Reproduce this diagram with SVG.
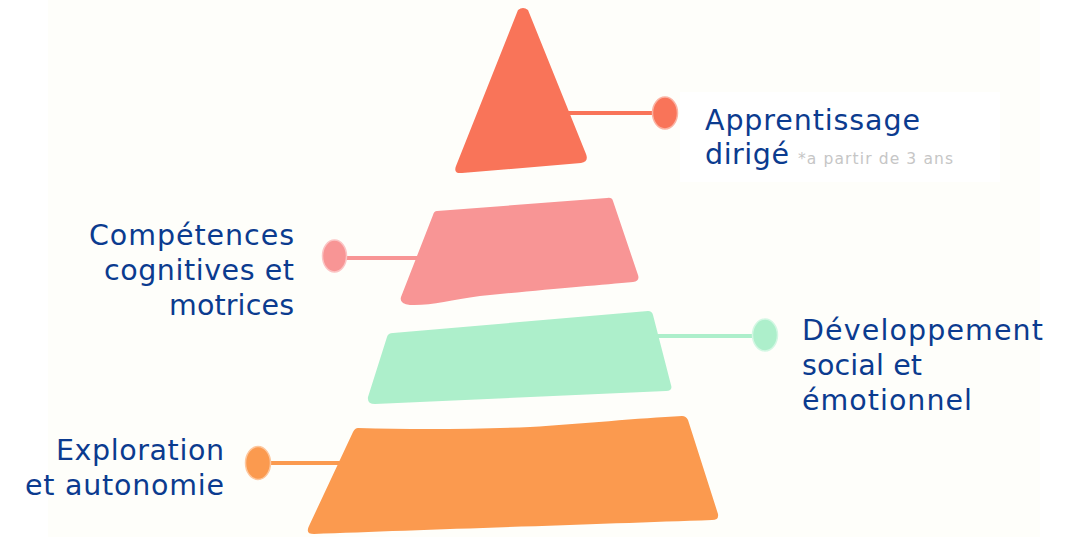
<svg xmlns="http://www.w3.org/2000/svg" width="1074" height="537" viewBox="0 0 1074 537">
<style>
.lbl{font-family:"DejaVu Sans","Liberation Sans",sans-serif;font-size:28.5px;fill:#0B3B8F}
.note{font-family:"DejaVu Sans","Liberation Sans",sans-serif;font-size:15.5px;fill:#C6C6C6}
.ln{stroke-width:4;fill:none}
.dot{stroke-width:1.5}
</style>
<rect x="0" y="0" width="1074" height="537" fill="#FFFFFF"/>
<rect x="48" y="0" width="992" height="537" fill="#FEFEFA"/>
<rect x="680" y="92" width="320" height="90" fill="#FFFFFF"/>
<g id="connectors">
  <line class="ln" x1="560" y1="113" x2="655" y2="113" stroke="#F97459"/>
  <ellipse class="dot" cx="665" cy="113" rx="12.5" ry="16" fill="#F97459" stroke="#FBB3A3"/>
  <line class="ln" x1="345" y1="258" x2="420" y2="258" stroke="#F89595"/>
  <ellipse class="dot" cx="334.5" cy="256" rx="12" ry="16" fill="#F89595" stroke="#FBC4C4"/>
  <line class="ln" x1="655" y1="336" x2="755" y2="336" stroke="#ADEFCB"/>
  <ellipse class="dot" cx="765" cy="335" rx="12.5" ry="16" fill="#ADEFCB" stroke="#D3F7E3"/>
  <line class="ln" x1="268" y1="463" x2="345" y2="463" stroke="#FB9A4F"/>
  <ellipse class="dot" cx="258" cy="463" rx="12.5" ry="16.5" fill="#FB9A4F" stroke="#FDC79E"/>
</g>
<g id="node-apprentissage">
  <path d="M518,10 Q523,6 528,10 L586,154 Q589,162 581,163 L462,173 Q453,174 456,166 Z" fill="#F97459"/>
  <text class="lbl" x="705" y="130" textLength="215" lengthAdjust="spacing">Apprentissage</text>
  <text class="lbl" x="705" y="164" textLength="84" lengthAdjust="spacing">dirigé</text>
  <text class="note" x="798" y="164" textLength="155" lengthAdjust="spacing">*a partir de 3 ans</text>
</g>
<g id="node-competences">
  <path d="M437,211 L607,198 Q612,197 613,201 L638,275 Q640,281 633,282 C600,285 540,290 480,296 C450,300 430,306 410,305 Q399,304 401,297 L433,215 Q434,211 437,211 Z" fill="#F89595"/>
  <text class="lbl" x="294" y="245" text-anchor="end" textLength="205" lengthAdjust="spacing">Compétences</text>
  <text class="lbl" x="294" y="280" text-anchor="end" textLength="190" lengthAdjust="spacing">cognitives et</text>
  <text class="lbl" x="294" y="315" text-anchor="end" textLength="125" lengthAdjust="spacing">motrices</text>
</g>
<g id="node-developpement">
  <path d="M393,333 L648,311 Q652,311 653,315 L671,385 Q673,391 666,391 L375,404 Q367,404 368,397 L387,337 Q388,333 393,333 Z" fill="#ADEFCB"/>
  <text class="lbl" x="802" y="340" textLength="241" lengthAdjust="spacing">Développement</text>
  <text class="lbl" x="802" y="375" textLength="120" lengthAdjust="spacing">social et</text>
  <text class="lbl" x="802" y="410" textLength="170" lengthAdjust="spacing">émotionnel</text>
</g>
<g id="node-exploration">
  <path d="M358,428 C420,430 480,429 530,427 C580,424 640,418 682,416 Q686,416 688,420 L718,514 Q719,520 712,520 C600,524 420,530 314,534 Q305,534 309,526 L353,432 Q355,428 358,428 Z" fill="#FB9A4F"/>
  <text class="lbl" x="224" y="460" text-anchor="end" textLength="168" lengthAdjust="spacing">Exploration</text>
  <text class="lbl" x="224" y="495" text-anchor="end" textLength="199" lengthAdjust="spacing">et autonomie</text>
</g>
</svg>
